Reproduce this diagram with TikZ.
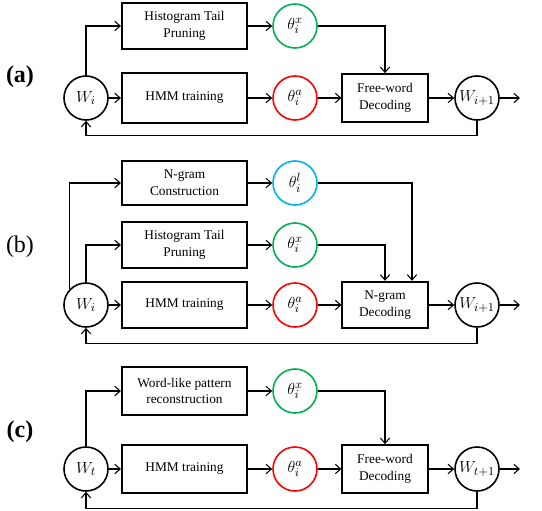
\documentclass[tikz,border=0pt]{standalone}
\usepackage{fontspec}
\setmainfont{Liberation Serif}
\usepackage{amsmath}
\usepackage{tikz}
\usetikzlibrary{arrows.meta,calc,positioning}
\definecolor{thgreen}{RGB}{0,176,80}
\definecolor{thred}{RGB}{255,0,0}
\definecolor{thblue}{RGB}{0,176,240}

\begin{document}
\begin{tikzpicture}[
    x=.75pt,y=-.75pt,
    blk/.style={rectangle,draw=black,line width=1.3pt,minimum width=94pt,minimum height=35pt,
      align=center,inner sep=1pt,font=\fontsize{10}{12.5}\selectfont},
    dec/.style={blk,minimum width=64pt,minimum height=36pt},
    w/.style={circle,draw=black,line width=1.2pt,minimum size=33pt,inner sep=0pt,font=\fontsize{13}{15}\selectfont},
    th/.style={w,draw=#1},
    lab/.style={font=\fontsize{18}{20}\selectfont},
    e/.style={-{Straight Barb[length=4pt,width=7pt,line width=.8pt]},line width=.8pt,black}
  ]
    \useasboundingbox (0,0) rectangle (542,510);
    % (a)
    \node[lab] (la) at (20,77) {\textbf{(a)}};
    \node[w] (Wa) at (86,98) {$W_i$};
    \node[blk] (Ta) at (184.5,26) {Histogram Tail\\Pruning};
    \node[blk,minimum height=37pt] (Ha) at (184.5,98) {HMM training};
    \node[th=thgreen] (xa) at (295,26) {$\theta^{x}_{i}$};
    \node[th=thred] (aa) at (295,98) {$\theta^{a}_{i}$};
    \node[dec] (Da) at (385,98) {Free-word\\Decoding};
    \node[w] (Wa1) at (477,98) {$W_{i+1}$};
    \coordinate (oa) at (520,98);
    \draw[e] (Wa.north) |- (Ta.west);
    \draw[e] (Wa)--(Ha); \draw[e] (Ta)--(xa); \draw[e] (Ha)--(aa);
    \draw[e] (xa) -| (Da.north); \draw[e] (aa)--(Da);
    \draw[e] (Da)--(Wa1); \draw[e] (Wa1)--(oa);
    \draw[e] (Wa1.south) -- ++(0,15) -| (Wa.south);
    % (b)
    \node[lab] (lb) at (20,247) {(b)};
    \node[w] (Wb) at (86,305) {$W_i$};
    \node[blk,minimum height=33pt] (Nb) at (184.5,183) {N-gram\\Construction};
    \node[blk,minimum height=34pt] (Tb) at (184.5,245) {Histogram Tail\\Pruning};
    \node[blk] (Hb) at (184.5,305) {HMM training};
    \node[th=thblue] (lb1) at (295,183) {$\theta^{l}_{i}$};
    \node[th=thgreen] (xb) at (295,245) {$\theta^{x}_{i}$};
    \node[th=thred] (ab) at (295,305) {$\theta^{a}_{i}$};
    \node[dec,minimum height=35pt] (Db) at (385,305) {N-gram\\Decoding};
    \node[w] (Wb1) at (477,305) {$W_{i+1}$};
    \coordinate (ob) at (520,305);
    \draw[e] (Wb.135) |- (Nb.west);
    \draw[e] (Wb.north) |- (Tb.west);
    \draw[e] (Wb)--(Hb); \draw[e] (Nb)--(lb1); \draw[e] (Tb)--(xb); \draw[e] (Hb)--(ab);
    \draw[e] (lb1) -| ($(Db.north)+(27,0)$);
    \draw[e] (xb) -| (Db.north);
    \draw[e] (ab)--(Db);
    \draw[e] (Db)--(Wb1); \draw[e] (Wb1)--(ob);
    \draw[e] (Wb1.south) -- ++(0,16) -| (Wb.south);
    % (c)
    \node[lab] (lc) at (20,432) {\textbf{(c)}};
    \node[w] (Wc) at (86,469) {$W_t$};
    \node[blk,minimum height=36pt] (Rc) at (184.5,391) {Word-like pattern\\reconstruction};
    \node[blk,minimum height=36pt] (Hc) at (184.5,469) {HMM training};
    \node[th=thgreen] (xc) at (295,391) {$\theta^{x}_{i}$};
    \node[th=thred] (ac) at (295,469) {$\theta^{a}_{i}$};
    \node[dec] (Dc) at (385,469) {Free-word\\Decoding};
    \node[w] (Wc1) at (477,469) {$W_{t+1}$};
    \coordinate (oc) at (520,469);
    \draw[e] (Wc.north) |- (Rc.west);
    \draw[e] (Wc)--(Hc); \draw[e] (Rc)--(xc); \draw[e] (Hc)--(ac);
    \draw[e] (xc) -| (Dc.north); \draw[e] (ac)--(Dc);
    \draw[e] (Dc)--(Wc1); \draw[e] (Wc1)--(oc);
    \draw[e] (Wc1.south) -- ++(0,17) -| (Wc.south);
\end{tikzpicture}
\end{document}
